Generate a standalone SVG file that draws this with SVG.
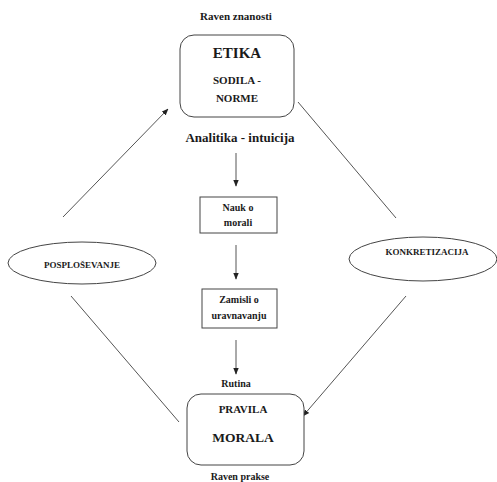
<svg xmlns="http://www.w3.org/2000/svg" width="497" height="482" viewBox="0 0 497 482">
<style>
text{font-family:"Liberation Serif","Times New Roman",serif;font-weight:bold;fill:#1a1a1a;text-anchor:middle}
.box{fill:#fff;stroke:#444;stroke-width:1}
.ln{stroke:#555;stroke-width:1;fill:none}
.s9{font-size:9px}.s10{font-size:10px}.s11{font-size:11px}.s13{font-size:13px}.s14{font-size:15px}
</style>
<defs>
<marker id="ah" viewBox="0 0 10 10" refX="9" refY="5" markerWidth="7" markerHeight="7" orient="auto" markerUnits="userSpaceOnUse">
<path d="M0,1 L10,5 L0,9 z" fill="#222"/>
</marker>
</defs>
<rect width="497" height="482" fill="#fff"/>
<g id="connectors">
<line class="ln" x1="63" y1="217" x2="168" y2="109" marker-end="url(#ah)"/>
<line class="ln" x1="71" y1="296" x2="179" y2="422"/>
<line class="ln" x1="298" y1="102" x2="396" y2="218"/>
<line class="ln" x1="406" y1="296" x2="303" y2="416" marker-end="url(#ah)"/>
<line class="ln" x1="236" y1="153" x2="236" y2="186" marker-end="url(#ah)"/>
<line class="ln" x1="236" y1="245" x2="236" y2="279" marker-end="url(#ah)"/>
<line class="ln" x1="236" y1="340" x2="236" y2="374" marker-end="url(#ah)"/>
</g>
<g id="raven-znanosti"><text class="s11" x="236" y="20">Raven znanosti</text></g>
<g id="etika">
<rect class="box" x="180" y="35" width="114" height="82" rx="14"/>
<text class="s14" x="237" y="58">ETIKA</text>
<text class="s11" x="237" y="84">SODILA -</text>
<text class="s11" x="237" y="102">NORME</text>
</g>
<g id="analitika"><text class="s13" x="240" y="142">Analitika - intuicija</text></g>
<g id="nauk">
<rect class="box" x="200" y="197" width="77" height="36"/>
<text class="s10" x="238" y="211">Nauk o</text>
<text class="s10" x="238" y="226">morali</text>
</g>
<g id="zamisli">
<rect class="box" x="202" y="289" width="75" height="39"/>
<text class="s10" x="239" y="303">Zamisli o</text>
<text class="s10" x="239" y="319">uravnavanju</text>
</g>
<g id="rutina"><text class="s10" x="236" y="387">Rutina</text></g>
<g id="pravila">
<rect class="box" x="187" y="394" width="117" height="71" rx="14"/>
<text class="s11" x="243" y="413">PRAVILA</text>
<text class="s13" x="243" y="442" style="font-size:13.5px">MORALA</text>
</g>
<g id="raven-prakse"><text class="s10" x="240" y="480">Raven prakse</text></g>
<g id="posplosevanje">
<ellipse class="box" cx="82" cy="263" rx="74" ry="21"/>
<text class="s9" x="82" y="268">POSPLOŠEVANJE</text>
</g>
<g id="konkretizacija">
<ellipse class="box" cx="423" cy="259" rx="74" ry="22"/>
<text class="s9" x="427" y="255">KONKRETIZACIJA</text>
</g>
</svg>
